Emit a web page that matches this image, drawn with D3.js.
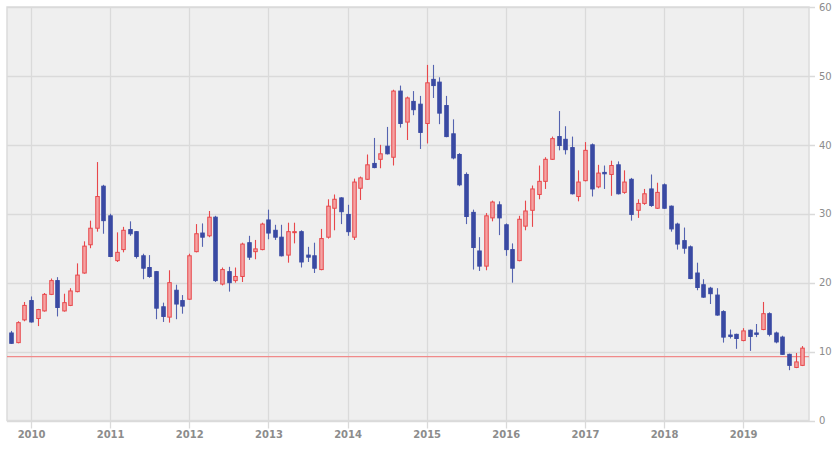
<!DOCTYPE html>
<html>
<head>
<meta charset="utf-8">
<script src="https://cdn.jsdelivr.net/npm/d3@7"></script>
<style>
html,body{margin:0;padding:0;background:#fff;}
svg{display:block;}
text{font-family:"DejaVu Sans",sans-serif;}
</style>
</head>
<body>
<svg id="chart" width="840" height="451"></svg>
<script>
const months = [
"2009-10","2009-11","2009-12",
"2010-01","2010-02","2010-03","2010-04","2010-05","2010-06","2010-07","2010-08","2010-09","2010-10","2010-11","2010-12",
"2011-01","2011-02","2011-03","2011-04","2011-05","2011-06","2011-07","2011-08","2011-09","2011-10","2011-11","2011-12",
"2012-01","2012-02","2012-03","2012-04","2012-05","2012-06","2012-07","2012-08","2012-09","2012-10","2012-11","2012-12",
"2013-01","2013-02","2013-03","2013-04","2013-05","2013-06","2013-07","2013-08","2013-09","2013-10","2013-11","2013-12",
"2014-01","2014-02","2014-03","2014-04","2014-05","2014-06","2014-07","2014-08","2014-09","2014-10","2014-11","2014-12",
"2015-01","2015-02","2015-03","2015-04","2015-05","2015-06","2015-07","2015-08","2015-09","2015-10","2015-11","2015-12",
"2016-01","2016-02","2016-03","2016-04","2016-05","2016-06","2016-07","2016-08","2016-09","2016-10","2016-11","2016-12",
"2017-01","2017-02","2017-03","2017-04","2017-05","2017-06","2017-07","2017-08","2017-09","2017-10","2017-11","2017-12",
"2018-01","2018-02","2018-03","2018-04","2018-05","2018-06","2018-07","2018-08","2018-09","2018-10","2018-11","2018-12",
"2019-01","2019-02","2019-03","2019-04","2019-05","2019-06","2019-07","2019-08","2019-09","2019-10"
];
const openV = [
12.7,11.3,14.6,
17.4,14.8,15.9,18.3,20.3,15.9,16.7,18.7,21.4,25.5,27.9,34.0,
29.7,23.2,24.8,27.7,27.4,23.9,22.2,21.6,16.5,15.0,18.9,17.4,
17.6,24.5,27.2,26.8,29.5,19.8,21.6,20.3,20.9,25.8,24.5,24.8,
29.1,27.6,26.6,24.0,27.3,27.4,24.0,23.9,21.9,26.6,30.8,32.3,
29.9,26.6,33.7,35.0,37.3,37.9,39.8,38.2,47.8,43.3,46.3,45.9,
43.1,49.5,49.1,45.7,41.6,38.6,35.7,30.2,24.6,22.4,29.4,31.3,
28.4,24.8,23.2,28.2,30.5,32.8,34.7,37.9,41.2,40.8,39.6,32.5,
34.8,40.0,33.9,36.0,35.7,37.1,33.1,35.0,30.5,31.5,33.6,30.8,
34.2,31.1,28.5,26.1,25.2,21.4,19.7,19.2,18.2,15.8,12.4,12.5,
11.6,13.1,12.7,13.2,15.5,12.7,12.1,9.6,7.7,8.0
];
const highV = [
13.0,14.4,17.2,
18.0,16.2,18.5,20.6,20.8,18.4,19.2,22.8,26.0,29.0,37.5,34.2,
30.0,27.3,28.1,28.9,27.5,24.2,24.0,21.7,17.1,21.8,19.7,18.2,
24.2,28.5,28.6,30.4,29.7,22.2,22.3,22.2,25.8,26.8,26.2,28.7,
30.6,28.4,28.4,28.7,28.7,27.6,25.2,25.8,27.8,32.1,32.8,32.4,
31.3,35.1,35.4,38.6,41.0,40.0,42.6,48.0,48.6,47.0,47.8,47.1,
51.6,51.6,49.8,47.1,43.7,38.8,36.0,30.6,26.6,30.1,31.9,31.8,
28.6,25.7,29.7,31.9,34.1,37.0,38.2,41.2,44.9,42.7,41.2,36.3,
40.4,40.2,37.1,37.0,37.7,37.6,36.3,35.2,32.1,33.6,35.7,34.5,
34.4,31.2,28.7,28.0,25.4,22.9,20.5,19.4,19.2,16.0,13.2,12.6,
13.4,13.2,14.0,17.2,15.7,12.9,12.3,9.7,9.8,10.8
];
const lowV = [
11.1,11.2,14.4,
14.2,13.7,15.8,18.2,15.1,15.8,16.6,18.6,21.3,25.0,27.4,27.1,
23.7,23.0,24.4,26.8,23.5,20.5,20.7,14.7,14.3,14.2,14.7,15.5,
17.5,24.4,25.2,26.6,20.1,19.6,18.7,20.0,20.1,23.3,23.4,24.7,
26.3,26.2,23.8,22.9,25.7,22.2,23.0,21.4,21.8,26.4,27.6,28.5,
26.8,26.2,32.0,34.9,36.6,36.6,38.6,37.0,42.5,40.7,44.3,39.4,
40.2,46.8,43.0,41.1,37.9,34.0,28.5,21.9,21.7,21.8,28.9,26.9,
23.9,20.0,23.1,27.6,28.1,32.1,33.6,37.8,39.2,38.6,32.8,31.8,
34.7,32.5,33.7,33.6,32.6,32.8,32.9,29.0,29.4,31.3,31.0,30.7,
30.7,27.4,24.8,24.2,20.5,18.9,17.8,16.9,15.2,11.3,11.9,10.4,
11.5,10.1,12.1,13.1,12.2,11.2,9.5,7.3,7.6,7.9
];
const closeV = [
11.2,14.2,16.7,
14.3,16.1,18.3,20.3,16.4,17.1,18.8,21.1,25.3,27.9,32.5,29.0,
23.8,24.4,27.6,27.1,23.8,22.1,20.9,16.3,15.1,20.0,16.9,16.6,
23.9,27.1,26.6,29.5,20.3,21.9,20.0,20.9,25.6,23.7,24.9,28.5,
27.2,26.6,23.9,27.4,27.4,23.0,23.7,22.1,26.4,31.1,32.1,30.3,
27.4,34.6,35.2,37.1,36.7,38.7,38.7,47.8,43.1,46.8,45.1,41.8,
49.0,48.6,44.6,41.2,38.1,34.2,29.6,25.1,22.4,29.7,31.7,29.4,
24.8,22.1,29.2,30.4,33.6,34.7,37.9,40.9,39.9,39.3,32.9,34.6,
39.2,33.6,35.9,35.8,37.0,32.9,34.6,29.9,31.5,32.9,31.2,33.1,
30.8,27.8,25.6,25.0,20.6,19.3,17.9,18.4,15.3,12.1,12.2,11.9,
13.0,12.2,12.5,15.5,12.5,11.4,9.6,8.0,8.5,10.5
];
const yTickValues = [0,10,20,30,40,50,60];
const refLineValue = 9.27;
const xDomain = ["2009-09-12","2019-11-01"];

const parse = d3.timeParse("%Y-%m");
const data = months.map((m,i)=>({date:parse(m),o:openV[i],h:highV[i],l:lowV[i],c:closeV[i]}));

const svg = d3.select("#chart");
const L=7, R=809, T=7, B=420.5;
const x = d3.scaleTime().domain(xDomain.map(d=>new Date(d+"T00:00:00"))).range([L,R]);
const y = d3.scaleLinear().domain([0,60]).range([B,T]);

svg.append("rect").attr("x",L).attr("y",T).attr("width",R-L).attr("height",B-T)
  .attr("fill","#efefef").attr("stroke","#dcdcdc").attr("stroke-width",1.5);

// grid
const years = d3.timeYear.range(new Date(2010,0,1), new Date(2020,0,1));
svg.append("g").selectAll("line").data(years).join("line")
  .attr("x1",d=>Math.round(x(d))+0.5).attr("x2",d=>Math.round(x(d))+0.5)
  .attr("y1",T).attr("y2",B+8).attr("stroke","#dadada").attr("stroke-width",1.3);
svg.append("g").selectAll("line").data(yTickValues).join("line")
  .attr("x1",L).attr("x2",R+6).attr("y1",d=>Math.round(y(d))+0.5).attr("y2",d=>Math.round(y(d))+0.5)
  .attr("stroke","#dadada").attr("stroke-width",1.3);

// axes labels
const xAxis = d3.axisBottom(x).tickValues(years).tickFormat(d3.timeFormat("%Y")).tickSize(0).tickPadding(10);
const gx = svg.append("g").attr("transform",`translate(0,${B})`).call(xAxis);
gx.select(".domain").remove();
gx.selectAll("text").attr("fill","#8c8c8c").attr("font-size","10px").attr("font-weight","bold").attr("font-family","DejaVu Sans, sans-serif");

const yAxis = d3.axisRight(y).tickValues(yTickValues).tickSize(0).tickPadding(10);
const gy = svg.append("g").attr("transform",`translate(${R},0)`).call(yAxis);
gy.select(".domain").remove();
gy.selectAll("text").attr("fill","#8c8c8c").attr("font-size","10px").attr("font-family","DejaVu Sans, sans-serif");

// reference line
svg.append("line").attr("x1",L).attr("x2",R).attr("y1",y(refLineValue)).attr("y2",y(refLineValue))
  .attr("stroke","#f08a8a").attr("stroke-width",1.2);

// candles
const up = "#e8474b", upFill = "#f4a3a3", down = "#3a4aa3";
const bw = 3.5;
const g = svg.append("g");
const cg = g.selectAll("g").data(data).join("g");
cg.append("line")
  .attr("x1",d=>Math.round(x(d.date))+0.5).attr("x2",d=>Math.round(x(d.date))+0.5)
  .attr("y1",d=>y(d.h)).attr("y2",d=>y(d.l))
  .attr("stroke",d=>d.c>=d.o?up:"#5563b0").attr("stroke-width",1.1);
cg.append("rect")
  .attr("x",d=>Math.round(x(d.date))+0.5-bw/2)
  .attr("width",bw)
  .attr("y",d=>y(Math.max(d.o,d.c)))
  .attr("height",d=>Math.max(1,Math.abs(y(d.o)-y(d.c))))
  .attr("fill",d=>d.c>=d.o?upFill:down)
  .attr("stroke",d=>d.c>=d.o?up:down)
  .attr("stroke-width",1);
</script>
</body>
</html>
